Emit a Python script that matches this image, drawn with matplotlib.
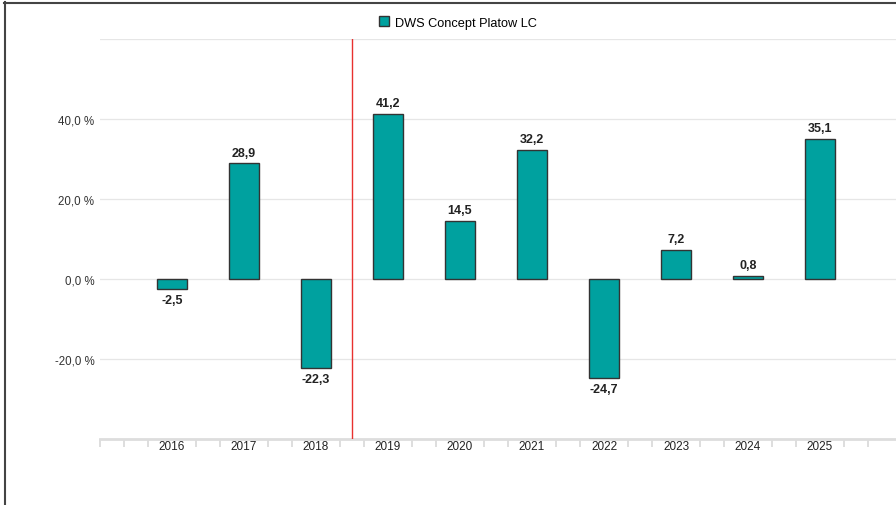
import matplotlib
matplotlib.use("Agg")
import matplotlib.pyplot as plt
from matplotlib.lines import Line2D
import numpy as np

plt.rcParams['font.family'] = ['Liberation Sans', 'DejaVu Sans']

years = ["2016", "2017", "2018", "2019", "2020", "2021", "2022", "2023", "2024", "2025"]
values = [-2.5, 28.9, -22.3, 41.2, 14.5, 32.2, -24.7, 7.2, 0.8, 35.1]
series_name = "DWS Concept Platow LC"
y_ticks = [-20, 0, 20, 40]
y_tick_labels = ["-20,0 %", "0,0 %", "20,0 %", "40,0 %"]

bar_color = "#00A19F"
edge_color = "#333333"

fig = plt.figure(figsize=(8.96, 5.06), dpi=100)
ax = fig.add_axes([100/896, 66/506, 796/896, 400/506])

x = np.arange(len(years))
bars = ax.bar(x, values, width=0.42, color=bar_color, edgecolor=edge_color, linewidth=1.0, zorder=3,
              label=series_name)

xmax = 796/72 - 1
ax.set_xlim(-1, xmax)
ax.set_ylim(-40, 60)

# gridlines
for gy in [60, 40, 20, 0, -20]:
    ax.axhline(gy, color="#e6e6e6", linewidth=0.9, zorder=1)

# value labels
for xi, v in zip(x, values):
    txt = f"{v:.1f}".replace(".", ",")
    if v >= 0:
        ax.annotate(txt, (xi, v), xytext=(0, 3.5), textcoords="offset points", ha="center", va="bottom",
                    fontsize=9, fontweight="bold", color="#222222")
    else:
        ax.annotate(txt, (xi, v), xytext=(0, -3.5), textcoords="offset points", ha="center", va="top",
                    fontsize=9, fontweight="bold", color="#222222")

# red vertical separator between 2018 and 2019
ax.axvline(2.5, color="#e8312f", linewidth=1.0, zorder=4)

for s in ["top", "right", "left"]:
    ax.spines[s].set_visible(False)
ax.spines["bottom"].set_color("#dddddd")
ax.spines["bottom"].set_linewidth(2.0)
ax.spines["bottom"].set_position(("data", -40))

ax.set_yticks(y_ticks)
ax.set_yticklabels(y_tick_labels, fontsize=8.3, color="#333333")
ax.tick_params(axis="y", length=0, pad=4)

ax.set_xticks(x)
ax.set_xticklabels(years, fontsize=8.5, color="#222222")
ax.tick_params(axis="x", which="major", length=0, pad=1)
minor = [-1.0]
for i in range(-1, 11):
    minor += [i - 1/3, i + 1/3]
minor = [m for m in minor if -1 <= m <= xmax]
ax.set_xticks(minor, minor=True)
ax.tick_params(axis="x", which="minor", length=6, width=1.2, color="#d8d8d8", direction="out")

# legend
leg = fig.legend(handles=[bars], labels=[series_name], loc="center", bbox_to_anchor=(458/896, 1 - 23.5/506),
                 frameon=False, fontsize=9.2, handlelength=0.8, handleheight=0.8, handletextpad=0.5)

# frame lines (left and top)
fig.add_artist(Line2D([4.5/896, 4.5/896], [0, 1 - 3/506], transform=fig.transFigure, color="#444444", linewidth=1.5))
fig.add_artist(Line2D([4/896, 1], [1 - 3.5/506, 1 - 3.5/506], transform=fig.transFigure, color="#444444", linewidth=1.5))

fig.savefig("out.png", dpi=100)
